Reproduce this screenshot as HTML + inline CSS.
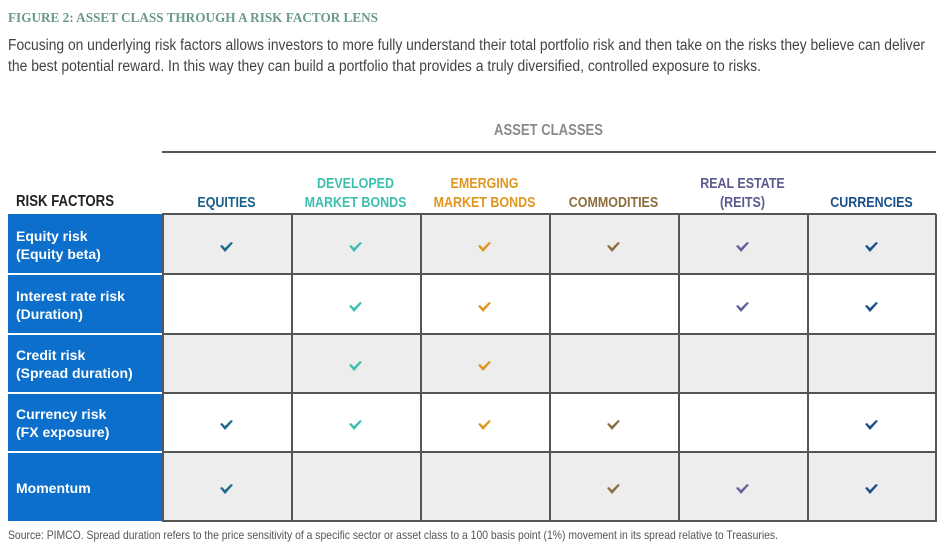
<!DOCTYPE html>
<html><head><meta charset="utf-8"><style>
body{margin:0;width:945px;height:550px;background:#fff;position:relative;overflow:hidden;font-family:"Liberation Sans Narrow","Liberation Sans",sans-serif}
.a{position:absolute;white-space:nowrap}
.fit{display:inline-block;transform-origin:0 0}
.title{left:8px;top:11px;font-family:"Liberation Serif",serif;font-weight:bold;font-size:14px;color:#6a9a88}
.body{left:8px;font-size:15.5px;color:#444}
.hd{font-weight:bold;font-size:14.5px;text-align:center;line-height:19px;transform:scaleX(0.86);transform-origin:50% 0}
.cell{position:absolute;box-sizing:border-box}
.lab{position:absolute;left:8px;width:154px;background:#0b6fcb;color:#fff;font-family:"Liberation Sans",sans-serif;font-weight:bold;font-size:14px;line-height:18px;box-sizing:border-box;padding-left:8px}
.vl{position:absolute;width:1.6px;background:#555;top:214px;height:308px}
.hl{position:absolute;height:1.6px;background:#555;left:162px;width:774px}
.ck{position:absolute;width:13px;height:10px}
</style></head><body>
<div class="a title"><span class="fit" id="l0">FIGURE 2: ASSET CLASS THROUGH A RISK FACTOR LENS</span></div>
<div class="a body" style="top:37px"><span class="fit" id="l1">Focusing on underlying risk factors allows investors to more fully understand their total portfolio risk and then take on the risks they believe can deliver</span></div>
<div class="a body" style="top:58px"><span class="fit" id="l2">the best potential reward. In this way they can build a portfolio that provides a truly diversified, controlled exposure to risks.</span></div>

<div class="a" style="left:494px;top:122px;font-weight:bold;font-size:15.5px;color:#8a8a8a"><span class="fit" id="l3">ASSET CLASSES</span></div>
<div class="a" style="left:162px;top:151px;width:774px;height:1.5px;background:#555"></div>

<div class="a" style="left:16px;top:193px;font-weight:bold;font-size:16px;color:#222"><span class="fit" id="l4">RISK FACTORS</span></div>

<div class="a hd" style="left:162px;width:129px;top:194px;color:#1a5f8a">EQUITIES</div>
<div class="a hd" style="left:291px;width:129px;top:175px;color:#3dbfb0">DEVELOPED<br>MARKET BONDS</div>
<div class="a hd" style="left:420px;width:129px;top:175px;color:#e0961e">EMERGING<br>MARKET BONDS</div>
<div class="a hd" style="left:549px;width:129px;top:194px;color:#8c6d3f">COMMODITIES</div>
<div class="a hd" style="left:678px;width:129px;top:175px;color:#5a5a8e">REAL ESTATE<br>(REITS)</div>
<div class="a hd" style="left:807px;width:129px;top:194px;color:#1a4f8a">CURRENCIES</div>

<div class="cell" style="left:162px;top:214px;width:774px;height:60px;background:#ededed"></div>
<div class="cell" style="left:162px;top:334px;width:774px;height:59px;background:#ededed"></div>
<div class="cell" style="left:162px;top:452px;width:774px;height:69px;background:#ededed"></div>

<div class="lab" style="top:214px;height:59px;padding-top:13px">Equity risk<br>(Equity beta)</div>
<div class="lab" style="top:275px;height:58px;padding-top:12px">Interest rate risk<br>(Duration)</div>
<div class="lab" style="top:335px;height:57px;padding-top:11px">Credit risk<br>(Spread duration)</div>
<div class="lab" style="top:394px;height:57px;padding-top:11px">Currency risk<br>(FX exposure)</div>
<div class="lab" style="top:453px;height:68px;padding-top:26px">Momentum</div>

<div class="vl" style="left:162px"></div><div class="vl" style="left:291px"></div><div class="vl" style="left:420px"></div><div class="vl" style="left:549px"></div><div class="vl" style="left:678px"></div><div class="vl" style="left:807px"></div><div class="vl" style="left:935px"></div>
<div class="hl" style="top:213px"></div><div class="hl" style="top:273px"></div><div class="hl" style="top:333px"></div><div class="hl" style="top:392px"></div><div class="hl" style="top:451px"></div><div class="hl" style="top:520px"></div>

<div class="a" style="left:8px;top:528px;font-size:12px;color:#555"><span class="fit" id="l5">Source: PIMCO. Spread duration refers to the price sensitivity of a specific sector or asset class to a 100 basis point (1%) movement in its spread relative to Treasuries.</span></div>

<div id="checks"></div>
<script>
var cols=[226,355,484,613,742,871];
var colors=['#1a6a90','#3dbfb0','#e0961e','#8c6d3f','#62629a','#1a4f8a'];
var rows=[247,307,366,425,489];
var m=[[1,1,1,1,1,1],[0,1,1,0,1,1],[0,1,1,0,0,0],[1,1,1,1,0,1],[1,0,0,1,1,1]];
var h='';
for(var r=0;r<5;r++)for(var c=0;c<6;c++)if(m[r][c]){
h+='<svg class="ck" style="left:'+(cols[c]-6)+'px;top:'+(rows[r]-5)+'px" viewBox="0 0 13 10"><path d="M0 4 L2 3 L5 6 L11 0 L13 1 L5 10 Z" fill="'+colors[c]+'"/></svg>';}
document.getElementById('checks').innerHTML=h;
var fits={l0:370,l1:917,l2:753,l3:109,l4:98,l5:770};
for(var k in fits){var e=document.getElementById(k);var w=e.getBoundingClientRect().width;if(w>0)e.style.transform='scaleX('+(fits[k]/w)+')';}
</script>
</body></html>
